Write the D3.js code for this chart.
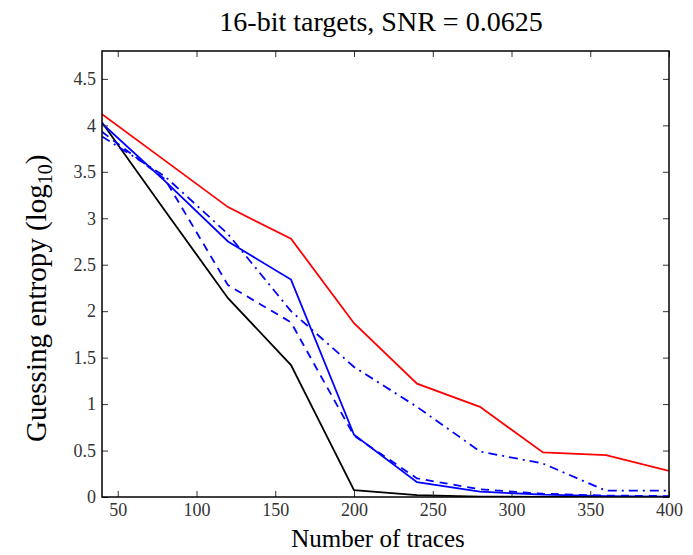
<!DOCTYPE html>
<html>
<head>
  <meta charset="utf-8">
  <title>Guessing entropy</title>
  <script src="https://d3js.org/d3.v7.min.js"></script>
  <style>
    body { margin: 0; padding: 0; background: white; }
    svg text { font-family: "Liberation Serif", "DejaVu Serif", serif; }
    .tick text { font-size: 18px; fill: #333; }
    .tick line { stroke: #333; }
    .domain { display: none; }
  </style>
</head>
<body>
<div id="chart"></div>
<script>
// data
var traces = [40, 80, 120, 160, 200, 240, 280, 320, 360, 400];
var redLine     = [4.12, 3.62, 3.12, 2.78, 1.87, 1.22, 0.97, 0.48, 0.45, 0.28];
var blackLine   = [4.03, 3.08, 2.14, 1.42, 0.075, 0.02, 0.005, 0.0, 0.0, 0.0];
var blueSolid   = [4.02, 3.40, 2.75, 2.34, 0.67, 0.16, 0.057, 0.025, 0.01, 0.005];
var blueDashed  = [3.93, 3.42, 2.28, 1.88, 0.66, 0.20, 0.083, 0.035, 0.015, 0.01];
var blueDashDot = [3.88, 3.45, 2.83, 2.00, 1.40, 0.97, 0.49, 0.36, 0.068, 0.068];
var xTicks = [50, 100, 150, 200, 250, 300, 350, 400];
var yTicks = [0, 0.5, 1, 1.5, 2, 2.5, 3, 3.5, 4, 4.5];

var W = 693, H = 555;
// plot box (note: "top" is reserved on window, so use pTop etc.)
var pLeft = 102, pRight = 669, pTop = 51, pBottom = 497;

var svg = d3.select("#chart").append("svg")
    .attr("width", W).attr("height", H);

var x = d3.scaleLinear().domain([40, 400]).range([pLeft, pRight]);
var y = d3.scaleLinear().domain([0, 4.8]).range([pBottom, pTop]);

svg.append("defs").append("clipPath").attr("id", "clip")
  .append("rect").attr("x", pLeft).attr("y", pTop)
    .attr("width", pRight - pLeft).attr("height", pBottom - pTop);

var line = d3.line()
    .x(function(d, i) { return x(traces[i]); })
    .y(function(d) { return y(d); });

var series = [
  { v: blackLine,   color: "#000000", dash: null },
  { v: redLine,     color: "#ff0000", dash: null },
  { v: blueDashDot, color: "#0000ff", dash: "9,5,2,5" },
  { v: blueDashed,  color: "#0000ff", dash: "8,6" },
  { v: blueSolid,   color: "#0000ff", dash: null }
];

var g = svg.append("g").attr("clip-path", "url(#clip)");
series.forEach(function(s) {
  g.append("path")
    .datum(s.v)
    .attr("d", line)
    .attr("fill", "none")
    .attr("stroke", s.color)
    .attr("stroke-width", 1.8)
    .attr("stroke-dasharray", s.dash);
});

// axes, ticks pointing inward like matplotlib
var fmt = function(d) { return String(d); };
svg.append("g")
    .attr("transform", "translate(0," + pBottom + ")")
    .call(d3.axisBottom(x).tickValues(xTicks).tickSize(-6).tickPadding(6).tickFormat(fmt));
svg.append("g")
    .attr("transform", "translate(0," + pTop + ")")
    .call(d3.axisTop(x).tickValues(xTicks).tickSize(-6).tickFormat(""));
svg.append("g")
    .attr("transform", "translate(" + pLeft + ",0)")
    .call(d3.axisLeft(y).tickValues(yTicks).tickSize(-6).tickPadding(6).tickFormat(fmt));
svg.append("g")
    .attr("transform", "translate(" + pRight + ",0)")
    .call(d3.axisRight(y).tickValues(yTicks).tickSize(-6).tickFormat(""));

svg.append("rect")
    .attr("x", pLeft).attr("y", pTop)
    .attr("width", pRight - pLeft).attr("height", pBottom - pTop)
    .attr("fill", "none").attr("stroke", "#000").attr("stroke-width", 1.5);

// labels
svg.append("text")
    .attr("x", 381).attr("y", 31)
    .attr("text-anchor", "middle")
    .style("font-size", "28px")
    .text("16-bit targets, SNR = 0.0625");

svg.append("text")
    .attr("x", 378).attr("y", 547)
    .attr("text-anchor", "middle")
    .style("font-size", "25px")
    .text("Number of traces");

var yl = svg.append("text")
    .attr("transform", "translate(46,442) rotate(-90)")
    .attr("text-anchor", "start")
    .style("font-size", "29px");
yl.append("tspan").text("Guessing entropy (log");
yl.append("tspan").attr("dy", 6).style("font-size", "20px").text("10");
yl.append("tspan").attr("dy", -6).text(")");
</script>
</body>
</html>
